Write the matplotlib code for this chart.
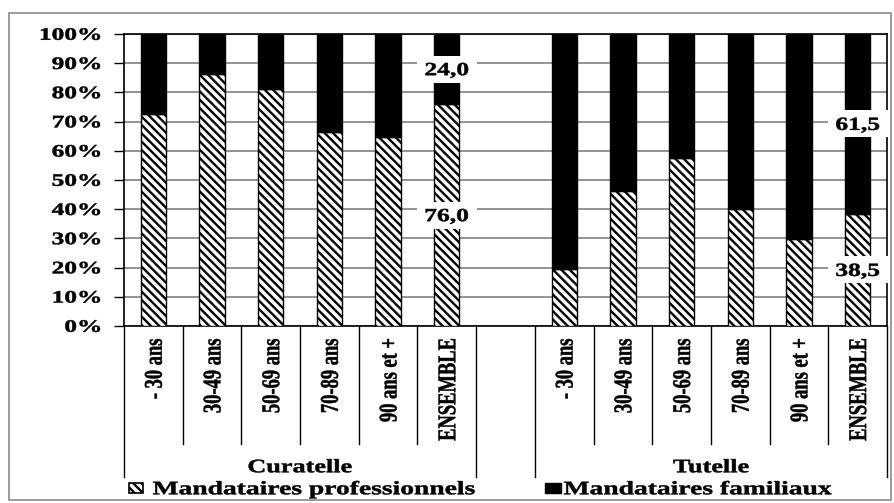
import matplotlib.pyplot as plt
from matplotlib.patches import Rectangle, PathPatch
from matplotlib.textpath import TextPath
from matplotlib.font_manager import FontProperties
from matplotlib.transforms import Affine2D, ScaledTranslation
from matplotlib.path import Path
import numpy as np

plt.rcParams['hatch.linewidth'] = 1.7

# data
ages = ['- 30 ans', '30-49 ans', '50-69 ans', '70-89 ans', '90 ans et +', 'ENSEMBLE']
groups = ['Curatelle', 'Tutelle']
pro_curatelle = [72.5, 86.3, 81.2, 66.4, 64.8, 76.0]
pro_tutelle = [19.6, 46.3, 57.6, 40.0, 29.8, 38.5]
series_names = ['Mandataires professionnels', 'Mandataires familiaux']
yticks = list(range(0, 101, 10))

# positions: 6 bars, an empty slot, 6 bars
x_cur = np.arange(6)
x_tut = np.arange(7, 13)
x = np.concatenate([x_cur, x_tut])
pro = np.array(pro_curatelle + pro_tutelle)
fam = 100 - pro
labels = ages + ages

FP = FontProperties(family='Liberation Serif', weight='bold')
SX = 1.38  # the original picture is stretched sideways

fig = plt.figure(figsize=(8.94, 5.03), dpi=100)
ax = fig.add_axes([124/894, 1 - 326/503, 763/894, 292/503])


def stext(x, y, s, size, trans, ha='center', va='center', rot=0, z=6, sx=SX):
    # text drawn as a path so it can be widened like the original
    tp = TextPath((0, 0), s, size=size, prop=FP)
    bb = tp.get_extents()
    ax0 = {'left': bb.x0, 'center': (bb.x0 + bb.x1) / 2, 'right': bb.x1}[ha]
    ay0 = {'center': 0.33 * size, 'baseline': 0}[va]
    t = (Affine2D().translate(-ax0, -ay0).rotate_deg(rot).scale(sx, 1)
         + ScaledTranslation(x, y, trans))
    fig.add_artist(PathPatch(tp, transform=t, facecolor='black', edgecolor='black',
                             lw=0.35, zorder=z))


def whitebox(x, y, w, h, trans, z=5):
    t = Affine2D().scale(w, h).translate(-w / 2, -h / 2) + ScaledTranslation(x, y, trans)
    fig.add_artist(PathPatch(Path.unit_rectangle(), transform=t, facecolor='white',
                             edgecolor='none', zorder=z))


# outer frame
fig.patches.append(Rectangle((9/894, 3/503), 882/894, 487/503, transform=fig.transFigure,
                             fill=False, edgecolor='#8a8a8a', lw=1.2))

w = 0.43
ax.bar(x, pro, w, color='white', edgecolor='black', hatch='\\\\\\\\', lw=1, zorder=3)
ax.bar(x, fam, w, bottom=pro, color='black', edgecolor='black', lw=1, zorder=3)

ax.set_xlim(-0.5, 12.5)
ax.set_ylim(0, 100)
ax.set_yticks(yticks)
ax.set_yticklabels([])
ax.yaxis.grid(True, color='#808080', lw=1.2, zorder=0)
ax.set_axisbelow(True)
ax.tick_params(axis='y', length=7, width=1, direction='out')
ax.set_xticks([])
for s in ax.spines.values():
    s.set_color('black')
    s.set_linewidth(1.2)

# y tick labels
ytr = ax.get_yaxis_transform()
for v in yticks:
    stext(-24/763, v, '%d%%' % v, 17.5, ytr, ha='right', sx=1.45)

# value labels on the ENSEMBLE bars
for xi, p in [(x_cur[-1], pro_curatelle[-1]), (x_tut[-1], pro_tutelle[-1])]:
    for val, yc in [(p, p / 2), (100 - p, p + (100 - p) / 2)]:
        whitebox(xi, yc, 60, 27, ax.transData)
        stext(xi, yc, ('%.1f' % val).replace('.', ','), 18.5, ax.transData)

# category labels under the axis
tr = ax.get_xaxis_transform()
for xi, lab in zip(x, labels):
    stext(xi, -13/292, lab, 18.5, tr, ha='right', rot=90)

# separator lines (table-like axis)
inner = [0.5, 1.5, 2.5, 3.5, 4.5, 7.5, 8.5, 9.5, 10.5, 11.5]
outer = [-0.5, 5.5, 6.5, 12.5]
for b in inner:
    ax.plot([b, b], [0, -118/292], color='black', lw=1, transform=tr, clip_on=False)
for b in outer:
    ax.plot([b, b], [0, -151/292], color='black', lw=1, transform=tr, clip_on=False)

# group labels
stext(2.5, -140/292, groups[0], 19, tr)
stext(9.5, -140/292, groups[1], 19, tr)

# legend
ly = 1 - 488/503
fig.patches.append(Rectangle((129/894, ly - 5/503), 14/894, 10/503, transform=fig.transFigure,
                             facecolor='white', edgecolor='black', hatch='\\\\\\\\', lw=1.2))
stext(153/894, ly, series_names[0], 19, fig.transFigure, ha='left', sx=1.45)
fig.patches.append(Rectangle((545/894, ly - 5/503), 16/894, 10/503, transform=fig.transFigure,
                             facecolor='black', edgecolor='black', lw=1))
stext(564/894, ly, series_names[1], 19, fig.transFigure, ha='left', sx=1.45)

plt.savefig('out.png', dpi=100)
